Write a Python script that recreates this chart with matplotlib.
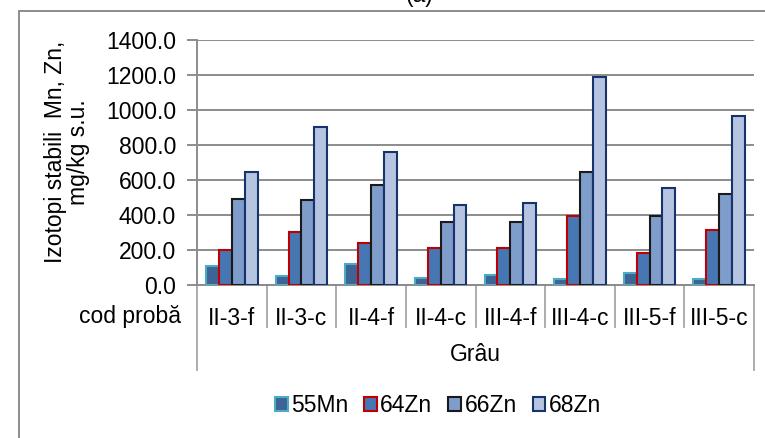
import matplotlib.pyplot as plt
import numpy as np
from matplotlib.patches import Rectangle
import matplotlib.transforms as mtransforms

plt.rcParams['font.family'] = ['Liberation Sans', 'DejaVu Sans']

probe = ["II-3-f", "II-3-c", "II-4-f", "II-4-c", "III-4-f", "III-4-c", "III-5-f", "III-5-c"]
mn55 = [111, 52, 119, 42, 58, 33, 67, 33]
zn64 = [201, 301, 238, 209, 211, 397, 184, 315]
zn66 = [493, 485, 573, 359, 359, 646, 397, 520]
zn68 = [643, 901, 761, 458, 470, 1189, 556, 967]

series = [("55Mn", mn55, "#3E6495", "#4BACC6"),
          ("64Zn", zn64, "#4677B3", "#C00000"),
          ("66Zn", zn66, "#7E9DCB", "#1a1a1a"),
          ("68Zn", zn68, "#B5C4E1", "#17336B")]

W, H = 765, 438
fs = 16.5
fig = plt.figure(figsize=(W / 100, H / 100), dpi=100)
ax = fig.add_axes([197 / W, 1 - 285 / H, (754 - 197) / W, 245 / H])

x = np.arange(len(probe))
bw = 0.185
for i, (name, vals, fc, ec) in enumerate(series):
    ax.bar(x + (i - 1.5) * bw, vals, bw, color=fc, edgecolor=ec, linewidth=1.5, label=name, zorder=3)

grey = "#8c8c8c"
ax.set_ylim(0, 1400)
ax.set_xlim(-0.5, 7.5)
ax.set_yticks(np.arange(0, 1401, 200))
ax.set_yticklabels(["%.1f" % v for v in np.arange(0, 1401, 200)], fontsize=fs)
ax.yaxis.grid(True, color=grey, linewidth=1.4, zorder=0)
ax.set_axisbelow(True)
ax.tick_params(axis='y', length=7, color=grey, width=1.4, pad=8)
ax.set_xticks(x)
ax.set_xticklabels(probe, fontsize=fs)
ax.tick_params(axis='x', length=0, pad=16)
for s in ["top", "right"]:
    ax.spines[s].set_visible(False)
for s in ["left", "bottom"]:
    ax.spines[s].set_color(grey)
    ax.spines[s].set_linewidth(1.4)

# multi-level category separators
tr = mtransforms.blended_transform_factory(ax.transData, ax.transAxes)
for b in np.arange(-0.5, 8, 1.0):
    low = -0.347 if b in (-0.5, 7.5) else -0.171
    ax.plot([b, b], [0, low], color="#a6a6a6", linewidth=1.3, transform=tr, clip_on=False)
ax.text(3.5, -0.285, "Grâu", transform=tr, ha="center", va="center", fontsize=fs)
fig.text(181 / W, 1 - 317 / H, "cod probă", ha="right", va="center", fontsize=fs)

fig.text(67 / W, 1 - 152 / H, "Izotopi stabili  Mn, Zn,\nmg/kg s.u.", rotation=90,
         ha="center", va="center", multialignment="center", fontsize=fs, linespacing=1.05)

fig.text(419 / W, 1 - 2 / H, "(a)", ha="center", va="baseline", fontsize=fs)

fig.add_artist(Rectangle((19 / W, -0.1), 1.2, 1.1 - 11 / H, transform=fig.transFigure,
                         fill=False, edgecolor=grey, linewidth=1.4, clip_on=False))

fig.legend(loc="center", bbox_to_anchor=(438 / W, 1 - 406 / H), ncol=4, frameon=False,
           fontsize=fs, handlelength=0.55, handleheight=0.55, handletextpad=0.15,
           columnspacing=0.7, borderaxespad=0)

fig.savefig("out.png", dpi=100)
